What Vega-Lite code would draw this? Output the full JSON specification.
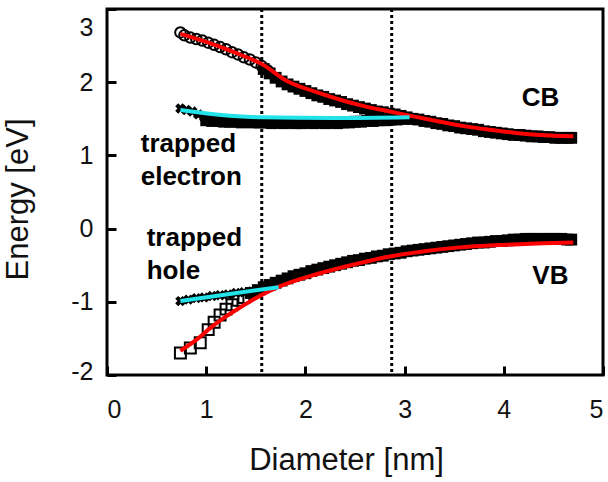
{
  "$schema": "https://vega.github.io/schema/vega-lite/v6.json",
  "width": 496,
  "height": 366,
  "autosize": "none",
  "padding": {"left": 107, "top": 9, "right": 5, "bottom": 107},
  "background": "white",
  "config": {
    "view": {"stroke": "black", "strokeWidth": 3},
    "font": "Liberation Sans",
    "axis": {
      "domain": false,
      "grid": false,
      "ticks": true,
      "tickColor": "black",
      "tickWidth": 3,
      "tickSize": 9,
      "offset": -9,
      "labelFont": "Liberation Sans",
      "labelColor": "#111",
      "labelFontSize": 25,
      "labelExpr": "'' + datum.value",
      "titleFont": "Liberation Sans",
      "titleFontWeight": "normal",
      "titleColor": "#111",
      "titleFontSize": 31
    }
  },
  "layer": [
    {
      "data": {"values": [{"d": 1.56}, {"d": 2.87}]},
      "mark": {"type": "rule", "color": "black", "strokeWidth": 3, "strokeDash": [3, 3]},
      "encoding": {
        "x": {
          "field": "d",
          "type": "quantitative",
          "scale": {"domain": [0, 5], "nice": false, "zero": false},
          "axis": {
            "values": [0, 1, 2, 3, 4, 5],
            "labelFlush": true,
            "labelPadding": 22,
            "title": "Diameter [nm]",
            "titleX": 239,
            "titleY": 103,
            "titleBaseline": "alphabetic"
          }
        }
      }
    },
    {
      "data": {
        "values": [
          {"d": 1.58, "E": 2.18}, {"d": 1.64, "E": 2.12}, {"d": 1.70, "E": 2.06}, {"d": 1.76, "E": 2.01},
          {"d": 1.82, "E": 1.97}, {"d": 1.88, "E": 1.94}, {"d": 1.94, "E": 1.91}, {"d": 2.00, "E": 1.88},
          {"d": 2.06, "E": 1.85}, {"d": 2.12, "E": 1.82}, {"d": 2.18, "E": 1.80}, {"d": 2.24, "E": 1.77},
          {"d": 2.30, "E": 1.75}, {"d": 2.36, "E": 1.73}, {"d": 2.42, "E": 1.70}, {"d": 2.48, "E": 1.68},
          {"d": 2.54, "E": 1.66}, {"d": 2.60, "E": 1.64}, {"d": 2.66, "E": 1.62}, {"d": 2.72, "E": 1.60},
          {"d": 2.78, "E": 1.59}, {"d": 2.84, "E": 1.57}, {"d": 2.90, "E": 1.56}, {"d": 2.96, "E": 1.54},
          {"d": 3.02, "E": 1.52}, {"d": 3.08, "E": 1.50}, {"d": 3.14, "E": 1.49}, {"d": 3.20, "E": 1.47},
          {"d": 3.26, "E": 1.46}, {"d": 3.32, "E": 1.44}, {"d": 3.38, "E": 1.43}, {"d": 3.44, "E": 1.41},
          {"d": 3.50, "E": 1.40}, {"d": 3.56, "E": 1.38}, {"d": 3.62, "E": 1.37}, {"d": 3.68, "E": 1.36},
          {"d": 3.74, "E": 1.35}, {"d": 3.80, "E": 1.33}, {"d": 3.86, "E": 1.32}, {"d": 3.92, "E": 1.31},
          {"d": 3.98, "E": 1.30}, {"d": 4.04, "E": 1.29}, {"d": 4.10, "E": 1.28}, {"d": 4.16, "E": 1.28},
          {"d": 4.22, "E": 1.27}, {"d": 4.28, "E": 1.26}, {"d": 4.34, "E": 1.26}, {"d": 4.40, "E": 1.25},
          {"d": 4.46, "E": 1.25}, {"d": 4.52, "E": 1.24}, {"d": 4.58, "E": 1.24}, {"d": 4.64, "E": 1.24},
          {"d": 4.68, "E": 1.24},
          {"d": 1.00, "E": 1.48}, {"d": 1.06, "E": 1.47}, {"d": 1.12, "E": 1.47}, {"d": 1.18, "E": 1.46},
          {"d": 1.24, "E": 1.46}, {"d": 1.30, "E": 1.46}, {"d": 1.36, "E": 1.45}, {"d": 1.42, "E": 1.46},
          {"d": 1.48, "E": 1.45}, {"d": 1.54, "E": 1.45}, {"d": 1.60, "E": 1.45}, {"d": 1.66, "E": 1.44},
          {"d": 1.72, "E": 1.45}, {"d": 1.78, "E": 1.44}, {"d": 1.84, "E": 1.45}, {"d": 1.90, "E": 1.44},
          {"d": 1.96, "E": 1.44}, {"d": 2.02, "E": 1.45}, {"d": 2.08, "E": 1.44}, {"d": 2.14, "E": 1.45},
          {"d": 2.20, "E": 1.44}, {"d": 2.26, "E": 1.45}, {"d": 2.32, "E": 1.44}, {"d": 2.38, "E": 1.45},
          {"d": 2.44, "E": 1.45}, {"d": 2.50, "E": 1.46}, {"d": 2.56, "E": 1.46}, {"d": 2.62, "E": 1.47},
          {"d": 2.68, "E": 1.47}, {"d": 2.74, "E": 1.48}, {"d": 2.80, "E": 1.48}, {"d": 2.86, "E": 1.49},
          {"d": 2.92, "E": 1.49}, {"d": 2.98, "E": 1.50}, {"d": 3.04, "E": 1.50},
          {"d": 1.45, "E": -0.88}, {"d": 1.52, "E": -0.84}, {"d": 1.58, "E": -0.80}, {"d": 1.64, "E": -0.77},
          {"d": 1.70, "E": -0.74}, {"d": 1.76, "E": -0.71}, {"d": 1.82, "E": -0.68}, {"d": 1.88, "E": -0.65},
          {"d": 1.94, "E": -0.63}, {"d": 2.00, "E": -0.61}, {"d": 2.06, "E": -0.58}, {"d": 2.12, "E": -0.56},
          {"d": 2.18, "E": -0.54}, {"d": 2.24, "E": -0.52}, {"d": 2.30, "E": -0.50}, {"d": 2.36, "E": -0.48},
          {"d": 2.42, "E": -0.46}, {"d": 2.48, "E": -0.44}, {"d": 2.54, "E": -0.43}, {"d": 2.60, "E": -0.41},
          {"d": 2.66, "E": -0.40}, {"d": 2.72, "E": -0.38}, {"d": 2.78, "E": -0.37}, {"d": 2.84, "E": -0.35},
          {"d": 2.90, "E": -0.34}, {"d": 2.96, "E": -0.33}, {"d": 3.02, "E": -0.31}, {"d": 3.08, "E": -0.30},
          {"d": 3.14, "E": -0.29}, {"d": 3.20, "E": -0.28}, {"d": 3.26, "E": -0.27}, {"d": 3.32, "E": -0.26},
          {"d": 3.38, "E": -0.25}, {"d": 3.44, "E": -0.24}, {"d": 3.50, "E": -0.23}, {"d": 3.56, "E": -0.22},
          {"d": 3.62, "E": -0.21}, {"d": 3.68, "E": -0.20}, {"d": 3.74, "E": -0.19}, {"d": 3.80, "E": -0.19},
          {"d": 3.86, "E": -0.18}, {"d": 3.92, "E": -0.17}, {"d": 3.98, "E": -0.17}, {"d": 4.04, "E": -0.16},
          {"d": 4.10, "E": -0.15}, {"d": 4.16, "E": -0.15}, {"d": 4.22, "E": -0.14}, {"d": 4.28, "E": -0.14},
          {"d": 4.34, "E": -0.14}, {"d": 4.40, "E": -0.14}, {"d": 4.46, "E": -0.14}, {"d": 4.52, "E": -0.14},
          {"d": 4.58, "E": -0.14}, {"d": 4.64, "E": -0.15}, {"d": 4.68, "E": -0.15}
        ]
      },
      "mark": {"type": "point", "shape": "square", "filled": true, "color": "black", "size": 140, "opacity": 1},
      "encoding": {
        "x": {"field": "d", "type": "quantitative"},
        "y": {
          "field": "E",
          "type": "quantitative",
          "scale": {"domain": [-2, 3], "nice": false, "zero": false},
          "axis": {
            "values": [-2, -1, 0, 1, 2, 3],
            "labelPadding": 14,
            "labelOffset": {
              "condition": [
                {"test": "datum.value == 3", "value": 18},
                {"test": "datum.value == -2", "value": -4}
              ],
              "value": 0
            },
            "title": "Energy [eV]",
            "titleX": -89,
            "titleY": 190,
            "titleBaseline": "alphabetic",
            "titleAngle": -90,
            "titleAnchor": "middle"
          }
        }
      }
    },
    {
      "data": {
        "values": [
          {"d": 0.74, "E": 2.68}, {"d": 0.78, "E": 2.64}, {"d": 0.84, "E": 2.61}, {"d": 0.90, "E": 2.59},
          {"d": 0.96, "E": 2.57}, {"d": 1.02, "E": 2.54}, {"d": 1.08, "E": 2.51}, {"d": 1.14, "E": 2.48},
          {"d": 1.20, "E": 2.45}, {"d": 1.26, "E": 2.41}, {"d": 1.32, "E": 2.38}, {"d": 1.38, "E": 2.34},
          {"d": 1.44, "E": 2.31}, {"d": 1.50, "E": 2.27}, {"d": 1.56, "E": 2.22}, {"d": 1.62, "E": 2.16}
        ]
      },
      "mark": {"type": "point", "shape": "circle", "filled": false, "color": "black", "size": 110, "strokeWidth": 2, "opacity": 1},
      "encoding": {
        "x": {"field": "d", "type": "quantitative"},
        "y": {"field": "E", "type": "quantitative"}
      }
    },
    {
      "data": {
        "values": [
          {"d": 0.74, "E": 1.64}, {"d": 0.80, "E": 1.62}, {"d": 0.86, "E": 1.60}, {"d": 0.92, "E": 1.56},
          {"d": 0.98, "E": 1.52}, {"d": 1.04, "E": 1.50},
          {"d": 0.74, "E": -0.99}, {"d": 0.82, "E": -0.97}, {"d": 0.90, "E": -0.95}, {"d": 0.98, "E": -0.94},
          {"d": 1.06, "E": -0.92}, {"d": 1.14, "E": -0.91}, {"d": 1.22, "E": -0.90}, {"d": 1.30, "E": -0.88},
          {"d": 1.38, "E": -0.87}, {"d": 1.46, "E": -0.86}, {"d": 1.54, "E": -0.84}
        ]
      },
      "mark": {"type": "point", "shape": "cross", "angle": 45, "filled": true, "color": "black", "size": 110, "opacity": 1},
      "encoding": {
        "x": {"field": "d", "type": "quantitative"},
        "y": {"field": "E", "type": "quantitative"}
      }
    },
    {
      "data": {
        "values": [
          {"d": 0.74, "E": -1.70}, {"d": 0.84, "E": -1.63}, {"d": 0.94, "E": -1.56}, {"d": 1.02, "E": -1.38},
          {"d": 1.08, "E": -1.28}, {"d": 1.14, "E": -1.18}, {"d": 1.20, "E": -1.10}, {"d": 1.26, "E": -1.04},
          {"d": 1.32, "E": -0.98}, {"d": 1.38, "E": -0.94}
        ]
      },
      "mark": {"type": "point", "shape": "square", "filled": false, "color": "black", "size": 120, "strokeWidth": 2, "opacity": 1},
      "encoding": {
        "x": {"field": "d", "type": "quantitative"},
        "y": {"field": "E", "type": "quantitative"}
      }
    },
    {
      "data": {
        "values": [
          {"band": "CB", "d": 0.74, "E": 2.66}, {"band": "CB", "d": 1.00, "E": 2.55},
          {"band": "CB", "d": 1.30, "E": 2.40}, {"band": "CB", "d": 1.57, "E": 2.24},
          {"band": "CB", "d": 1.81, "E": 2.02}, {"band": "CB", "d": 2.12, "E": 1.86},
          {"band": "CB", "d": 2.35, "E": 1.76}, {"band": "CB", "d": 2.60, "E": 1.67},
          {"band": "CB", "d": 2.85, "E": 1.60}, {"band": "CB", "d": 3.10, "E": 1.53},
          {"band": "CB", "d": 3.36, "E": 1.46}, {"band": "CB", "d": 3.60, "E": 1.40},
          {"band": "CB", "d": 3.86, "E": 1.35}, {"band": "CB", "d": 4.10, "E": 1.31},
          {"band": "CB", "d": 4.36, "E": 1.28}, {"band": "CB", "d": 4.70, "E": 1.26},
          {"band": "VB", "d": 0.74, "E": -1.67}, {"band": "VB", "d": 0.90, "E": -1.52},
          {"band": "VB", "d": 1.04, "E": -1.36}, {"band": "VB", "d": 1.20, "E": -1.20},
          {"band": "VB", "d": 1.34, "E": -1.08}, {"band": "VB", "d": 1.54, "E": -0.92},
          {"band": "VB", "d": 1.74, "E": -0.79}, {"band": "VB", "d": 2.12, "E": -0.62},
          {"band": "VB", "d": 2.52, "E": -0.48}, {"band": "VB", "d": 2.85, "E": -0.38},
          {"band": "VB", "d": 3.20, "E": -0.31}, {"band": "VB", "d": 3.53, "E": -0.26},
          {"band": "VB", "d": 4.03, "E": -0.22}, {"band": "VB", "d": 4.40, "E": -0.20},
          {"band": "VB", "d": 4.70, "E": -0.19}
        ]
      },
      "mark": {"type": "line", "color": "#ff0000", "strokeWidth": 4, "interpolate": "monotone"},
      "encoding": {
        "x": {"field": "d", "type": "quantitative"},
        "y": {"field": "E", "type": "quantitative"},
        "detail": {"field": "band"}
      }
    },
    {
      "data": {
        "values": [
          {"trap": "electron", "d": 0.74, "E": 1.62}, {"trap": "electron", "d": 1.10, "E": 1.56},
          {"trap": "electron", "d": 1.57, "E": 1.52}, {"trap": "electron", "d": 2.30, "E": 1.51},
          {"trap": "electron", "d": 3.05, "E": 1.52},
          {"trap": "hole", "d": 0.74, "E": -0.99}, {"trap": "hole", "d": 1.20, "E": -0.90},
          {"trap": "hole", "d": 1.73, "E": -0.80}
        ]
      },
      "mark": {"type": "line", "color": "#22e2ea", "strokeWidth": 4, "interpolate": "monotone"},
      "encoding": {
        "x": {"field": "d", "type": "quantitative"},
        "y": {"field": "E", "type": "quantitative"},
        "detail": {"field": "trap"}
      }
    },
    {
      "data": {
        "values": [
          {"d": 0.34, "E": 1.04, "txt": "trapped"},
          {"d": 0.34, "E": 0.59, "txt": "electron"},
          {"d": 0.40, "E": -0.24, "txt": "trapped"},
          {"d": 0.40, "E": -0.69, "txt": "hole"}
        ]
      },
      "mark": {"type": "text", "align": "left", "baseline": "alphabetic", "font": "Liberation Sans", "fontWeight": "bold", "fontSize": 26, "color": "black"},
      "encoding": {
        "x": {"field": "d", "type": "quantitative"},
        "y": {"field": "E", "type": "quantitative"},
        "text": {"field": "txt"}
      }
    },
    {
      "data": {
        "values": [
          {"d": 4.37, "E": 1.78, "txt": "CB"},
          {"d": 4.47, "E": -0.65, "txt": "VB"}
        ]
      },
      "mark": {"type": "text", "align": "center", "baseline": "middle", "font": "Liberation Sans", "fontWeight": "bold", "fontSize": 26, "color": "black"},
      "encoding": {
        "x": {"field": "d", "type": "quantitative"},
        "y": {"field": "E", "type": "quantitative"},
        "text": {"field": "txt"}
      }
    }
  ]
}
